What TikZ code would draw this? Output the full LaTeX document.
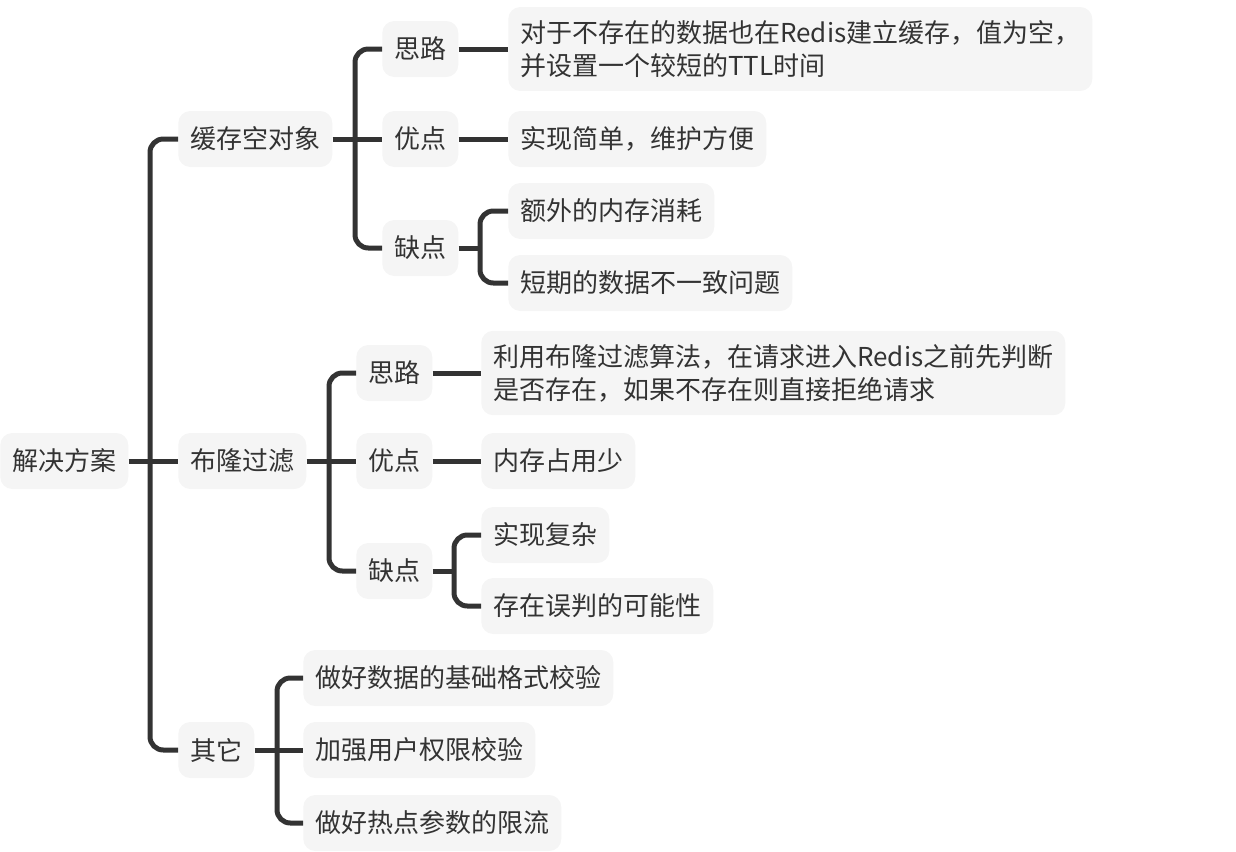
\documentclass[tikz,border=0pt]{standalone}
\usepackage{fontspec}
\setmainfont{Noto Sans CJK SC}
\usepackage{tikz}
\usetikzlibrary{positioning}
\definecolor{ink}{HTML}{333333}
\definecolor{boxbg}{HTML}{F5F5F5}

\begin{document}
\begin{tikzpicture}[x=0.75pt,y=-0.75pt,
  box/.style={fill=boxbg,rounded corners=9pt,anchor=west,minimum height=42pt,inner xsep=9pt,inner ysep=10pt,text=ink,align=left,font=\fontsize{19.5}{24.75}\selectfont},
  link/.style={draw=ink,line width=3.75pt,rounded corners=10pt}]
  \useasboundingbox (0,0) rectangle (1236,851);
  % root and first level
  \node[box] (root) at (0,461) {解决方案};
  \node[box] (nullobj) at (178,139) {缓存空对象};
  \node[box] (bloom) at (178,461) {布隆过滤};
  \node[box] (other) at (178,750) {其它};
  % cache null object
  \node[box] (idea1) at (382,49) {思路};
  \node[box] (pro1) at (382,139) {优点};
  \node[box] (con1) at (382,248) {缺点};
  \node[box] (idea1t) at (508,49) {对于不存在的数据也在Redis建立缓存，值为空，\\并设置一个较短的TTL时间};
  \node[box] (pro1t) at (508,139) {实现简单，维护方便};
  \node[box] (con1a) at (508,211) {额外的内存消耗};
  \node[box] (con1b) at (508,283) {短期的数据不一致问题};
  % bloom filter
  \node[box] (idea2) at (356,373) {思路};
  \node[box] (pro2) at (356,461) {优点};
  \node[box] (con2) at (356,571) {缺点};
  \node[box] (idea2t) at (481,373) {利用布隆过滤算法，在请求进入Redis之前先判断\\是否存在，如果不存在则直接拒绝请求};
  \node[box] (pro2t) at (481,461) {内存占用少};
  \node[box] (con2a) at (481,535) {实现复杂};
  \node[box] (con2b) at (481,606) {存在误判的可能性};
  % others
  \node[box] (oth1) at (303,678) {做好数据的基础格式校验};
  \node[box] (oth2) at (303,750) {加强用户权限校验};
  \node[box] (oth3) at (303,823) {做好热点参数的限流};
  % trunks
  \coordinate (t0) at (150,461);
  \coordinate (t1) at (355,139);
  \coordinate (t2) at (480,248);
  \coordinate (t3) at (329,461);
  \coordinate (t4) at (454,571);
  \coordinate (t5) at (277,750);
  \draw[link] (nullobj.west) -| (t0) |- (other.west);
  \draw[link] (root.east) -- (bloom.west);
  \draw[link] (idea1.west) -| (t1) |- (con1.west);
  \draw[link] (nullobj.east) -- (pro1.west);
  \draw[link] (con1a.west) -| (t2) |- (con1b.west);
  \draw[link] (con1.east) -- (t2);
  \draw[link] (idea1.east) -- (idea1t.west);
  \draw[link] (pro1.east) -- (pro1t.west);
  \draw[link] (idea2.west) -| (t3) |- (con2.west);
  \draw[link] (bloom.east) -- (pro2.west);
  \draw[link] (con2a.west) -| (t4) |- (con2b.west);
  \draw[link] (con2.east) -- (t4);
  \draw[link] (idea2.east) -- (idea2t.west);
  \draw[link] (pro2.east) -- (pro2t.west);
  \draw[link] (oth1.west) -| (t5) |- (oth3.west);
  \draw[link] (other.east) -- (oth2.west);
\end{tikzpicture}
\end{document}
